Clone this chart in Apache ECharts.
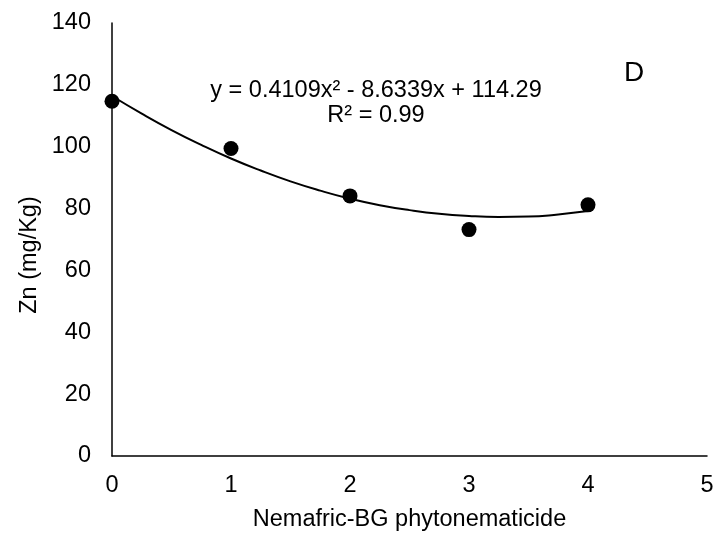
<!DOCTYPE html>
<html><head><meta charset="utf-8">
<script src="https://cdn.jsdelivr.net/npm/echarts@6/dist/echarts.min.js"></script>
<style>html,body{margin:0;padding:0;background:#fff}#c{width:723px;height:537px}</style>
</head><body><div id="c"></div>
<script>
const xPoints = [0, 1, 2, 3, 4];
const yPoints = [114.7, 99.4, 84.1, 73.2, 81.2];
const trendX = [0, 0.25, 0.5, 0.75, 1, 1.25, 1.5, 1.75, 2, 2.25, 2.5, 2.75, 3, 3.25, 3.5, 3.75, 4];
const trendY = [116.4, 110.7, 105.4, 100.6, 96.2, 92.3, 88.8, 85.8, 83.2, 81.1, 79.5, 78.3, 77.6, 77.3, 77.4, 78.1, 79.2];
const xTicks = [0, 1, 2, 3, 4, 5];
const yTicks = [0, 20, 40, 60, 80, 100, 120, 140];
const xTitle = 'Nemafric-BG phytonematicide';
const yTitle = 'Zn (mg/Kg)';
const equationText = 'y = 0.4109x² - 8.6339x + 114.29';
const r2Text = 'R² = 0.99';
const panelLabel = 'D';

const chart = echarts.init(document.getElementById('c'));
const font = 'Liberation Sans, Arial, sans-serif';
chart.setOption({
  animation: false,
  backgroundColor: '#fff',
  grid: {left: 112, right: 16, top: 23, bottom: 76},
  xAxis: {
    type: 'value', min: xTicks[0], max: xTicks[xTicks.length-1], interval: 1,
    name: xTitle, nameLocation: 'middle', nameGap: 52,
    nameTextStyle: {fontFamily: font, fontSize: 23.5, color: '#000'},
    axisLine: {show: true, lineStyle: {color: '#000', width: 1.5}},
    axisTick: {show: false},
    splitLine: {show: false},
    axisLabel: {fontFamily: font, fontSize: 23.5, color: '#000', margin: 18}
  },
  yAxis: {
    type: 'value', min: yTicks[0], max: yTicks[yTicks.length-1], interval: 20,
    axisLine: {show: true, lineStyle: {color: '#000', width: 1.5}},
    axisTick: {show: false},
    splitLine: {show: false},
    axisLabel: {fontFamily: font, fontSize: 23.5, color: '#000', margin: 21}
  },
  series: [
    {
      type: 'line', data: trendX.map((x, i) => [x, trendY[i]]),
      smooth: true, symbol: 'none', lineStyle: {color: '#000', width: 2}, z: 2
    },
    {
      type: 'scatter', data: xPoints.map((x, i) => [x, yPoints[i]]),
      symbol: 'circle', symbolSize: 15, itemStyle: {color: '#000', opacity: 1}, z: 3
    }
  ],
  graphic: [
    {type: 'text', x: 376, y: 91, style: {text: equationText, fontFamily: font, fontSize: 23.5, fill: '#000', align: 'center', verticalAlign: 'middle'}},
    {type: 'text', x: 376, y: 116, style: {text: r2Text, fontFamily: font, fontSize: 23.5, fill: '#000', align: 'center', verticalAlign: 'middle'}},
    {type: 'text', x: 634, y: 73, style: {text: panelLabel, fontFamily: font, fontSize: 28, fill: '#000', align: 'center', verticalAlign: 'middle'}},
    {type: 'text', x: 30, y: 255, rotation: Math.PI / 2, style: {text: yTitle, fontFamily: font, fontSize: 23.5, fill: '#000', align: 'center', verticalAlign: 'middle'}}
  ]
});
</script></body></html>
